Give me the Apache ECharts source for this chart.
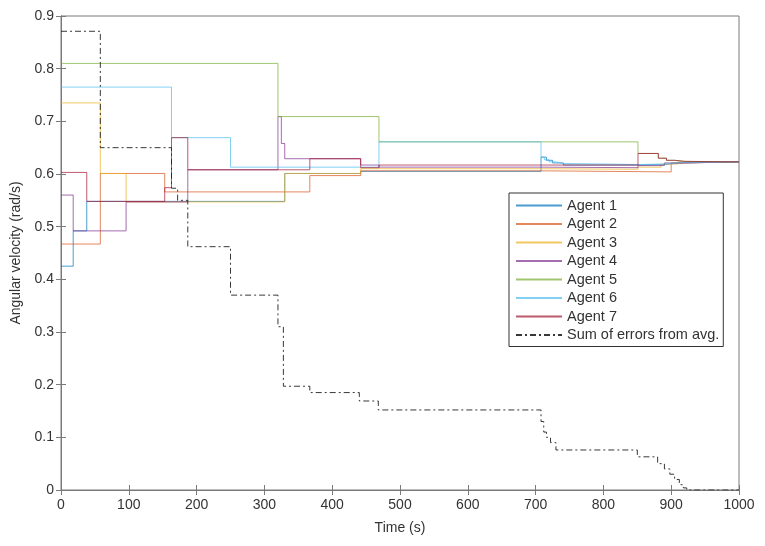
<!DOCTYPE html>
<html lang="en">
<head>
  <meta charset="UTF-8">
  <title>Angular velocity</title>
  <style>
    html, body { margin: 0; padding: 0; background: #fff; }
  </style>
  <script src="https://cdn.jsdelivr.net/npm/echarts@6/dist/echarts.min.js"></script>
</head>
<body>
<div id="chart" style="width: 765px; height: 546px;"></div>
<script>
  // step data: [time, value], value holds until the next time
  const agent1 = [[0, 0.425], [18, 0.492], [38, 0.548], [330, 0.601], [442, 0.605], [708, 0.632], [716, 0.626], [725, 0.621], [741, 0.617], [851, 0.618], [890, 0.621], [915, 0.623], [1000, 0.623]]
  const agent2 = [[0, 0.467], [58, 0.601], [153, 0.566], [367, 0.597], [442, 0.606], [708, 0.604], [900, 0.621], [920, 0.623], [1000, 0.623]]
  const agent3 = [[0, 0.735], [58, 0.601], [96, 0.547], [330, 0.601], [442, 0.610], [708, 0.609], [851, 0.613], [885, 0.619], [910, 0.623], [1000, 0.623]]
  const agent4 = [[0, 0.56], [18, 0.492], [96, 0.547], [187, 0.608], [320, 0.709], [325, 0.658], [330, 0.629], [442, 0.617], [469, 0.613], [708, 0.612], [851, 0.616], [890, 0.621], [915, 0.623], [1000, 0.623]]
  const agent5 = [[0, 0.81], [320, 0.709], [469, 0.661], [851, 0.639], [881, 0.630], [893, 0.626], [905, 0.624], [920, 0.623], [1000, 0.623]]
  const agent6 = [[0, 0.765], [163, 0.669], [250, 0.613], [469, 0.661], [708, 0.632], [713, 0.627], [720, 0.623], [730, 0.620], [741, 0.618], [851, 0.619], [890, 0.622], [915, 0.623], [1000, 0.623]]
  const agent7 = [[0, 0.603], [38, 0.548], [153, 0.574], [163, 0.669], [187, 0.608], [367, 0.629], [442, 0.612], [469, 0.617], [851, 0.639], [881, 0.630], [893, 0.626], [905, 0.624], [920, 0.623], [1000, 0.623]]
  const errorSum = [[0, 0.871], [58, 0.65], [163, 0.573], [172, 0.55], [187, 0.462], [250, 0.37], [320, 0.31], [328, 0.197], [367, 0.185], [440, 0.169], [468, 0.152], [708, 0.13], [712, 0.11], [716, 0.10], [722, 0.09], [730, 0.076], [850, 0.063], [880, 0.05], [890, 0.04], [898, 0.03], [905, 0.02], [912, 0.01], [918, 0.004], [923, 0], [1000, 0]]

  const names = ['Agent 1', 'Agent 2', 'Agent 3', 'Agent 4', 'Agent 5', 'Agent 6', 'Agent 7', 'Sum of errors from avg.']
  const colors = ['#0072BD', '#D95319', '#EDB120', '#7E2F8E', '#77AC30', '#4DBEEE', '#A2142F', '#222222']
  const allData = [agent1, agent2, agent3, agent4, agent5, agent6, agent7, errorSum]

  const font = 'Liberation Sans, Arial, sans-serif'
  const axisGrey = '#7a7a7a'

  const chart = echarts.init(document.getElementById('chart'))

  let series = allData.map((d, i) => ({
    name: names[i],
    type: 'line',
    step: 'end',
    symbol: 'none',
    data: d,
    z: i === 7 ? 5 : 2,
    lineStyle: {
      color: colors[i],
      width: 1,
      opacity: i === 7 ? 0.9 : 0.7,
      type: i === 7 ? [6, 3, 2, 3] : 'solid'
    },
    itemStyle: { color: colors[i] }
  }))

  const option = {
    animation: false,
    textStyle: { fontFamily: font },
    grid: {
      left: 61, right: 26, top: 16, bottom: 56,
      show: true, borderColor: axisGrey, borderWidth: 1
    },
    legend: {
      orient: 'vertical',
      left: 509, top: 193,
      width: 215,
      itemWidth: 46, itemHeight: 12,
      itemGap: 3.5,
      padding: [5, 4, 4, 6],
      backgroundColor: '#fff',
      borderColor: '#333',
      borderWidth: 1,
      itemStyle: { opacity: 0 },
      textStyle: { fontSize: 14.5, color: '#333', fontFamily: font },
      data: names
    },
    xAxis: [{
      type: 'value', min: 0, max: 1000, interval: 100,
      name: 'Time (s)', nameLocation: 'middle', nameGap: 31,
      nameTextStyle: { fontSize: 14, color: '#333' },
      axisLine: { show: true, lineStyle: { color: axisGrey } },
      axisTick: { show: true, inside: true, length: 5, lineStyle: { color: axisGrey } },
      axisLabel: { fontSize: 14, color: '#333', margin: 8, formatter: v => String(v) },
      splitLine: { show: false }
    }, {
      type: 'value', min: 0, max: 1000, interval: 100, position: 'top',
      axisLine: { show: true, lineStyle: { color: axisGrey } },
      axisTick: { show: true, inside: true, length: 5, lineStyle: { color: axisGrey } },
      axisLabel: { show: false },
      splitLine: { show: false }
    }],
    yAxis: [{
      type: 'value', min: 0, max: 0.9, interval: 0.1,
      name: 'Angular velocity (rad/s)', nameLocation: 'middle', nameGap: 35,
      nameTextStyle: { fontSize: 14, color: '#333' },
      axisLine: { show: true, lineStyle: { color: axisGrey } },
      axisTick: { show: true, inside: true, length: 5, lineStyle: { color: axisGrey } },
      axisLabel: { fontSize: 14, color: '#333', margin: 7 },
      splitLine: { show: false }
    }, {
      type: 'value', min: 0, max: 0.9, interval: 0.1, position: 'right',
      axisLine: { show: true, lineStyle: { color: axisGrey } },
      axisTick: { show: true, inside: true, length: 5, lineStyle: { color: axisGrey } },
      axisLabel: { show: false },
      splitLine: { show: false }
    }],
    series: series
  }
  chart.setOption(option)
</script>
</body>
</html>
